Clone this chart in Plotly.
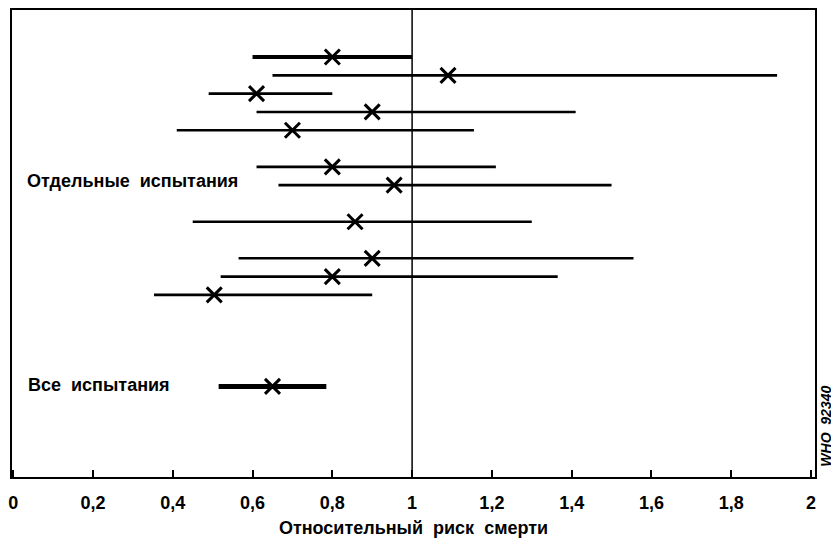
import plotly.graph_objects as go

# Data (relative risk of death, 95% CI)
row_pos = [0, 1, 2, 3, 4, 6, 7, 9, 11, 12, 13]
est = [0.80, 1.09, 0.61, 0.90, 0.70, 0.80, 0.955, 0.857, 0.90, 0.80, 0.504]
lo = [0.60, 0.65, 0.49, 0.61, 0.41, 0.61, 0.665, 0.45, 0.565, 0.52, 0.353]
hi = [1.00, 1.915, 0.80, 1.41, 1.155, 1.21, 1.50, 1.30, 1.555, 1.365, 0.90]
thick = [True, False, False, False, False, False, False, False, False, False, False]

overall_pos = 18
overall_est = 0.65
overall_lo = 0.515
overall_hi = 0.785

tick_vals = [0, 0.2, 0.4, 0.6, 0.8, 1, 1.2, 1.4, 1.6, 1.8, 2]
tick_text = ["0", "0,2", "0,4", "0,6", "0,8", "1", "1,2", "1,4", "1,6", "1,8", "2"]

label_individual = "Отдельные\u00a0\u00a0испытания"
label_all = "Все\u00a0\u00a0испытания"
x_title = "Относительный\u00a0\u00a0риск\u00a0\u00a0смерти"
code_text = "WHO\u00a0\u00a092340"

FONT = "Liberation Sans, Arial, sans-serif"

fig = go.Figure()

def seg(idx_filter):
    xs, ys = [], []
    for i in range(len(est)):
        if idx_filter(i):
            xs += [lo[i], hi[i], None]
            ys += [row_pos[i], row_pos[i], None]
    return xs, ys

xs, ys = seg(lambda i: not thick[i])
fig.add_trace(go.Scatter(x=xs, y=ys, mode="lines", line=dict(color="black", width=2.6),
                         hoverinfo="skip", showlegend=False))
xs, ys = seg(lambda i: thick[i])
fig.add_trace(go.Scatter(x=xs, y=ys, mode="lines", line=dict(color="black", width=4),
                         hoverinfo="skip", showlegend=False))
fig.add_trace(go.Scatter(x=[overall_lo, overall_hi], y=[overall_pos, overall_pos], mode="lines",
                         line=dict(color="black", width=5), hoverinfo="skip", showlegend=False))

fig.add_trace(go.Scatter(x=est + [overall_est], y=row_pos + [overall_pos], mode="markers",
                         marker=dict(symbol="x-thin-open", size=15, color="black",
                                     line=dict(color="black", width=3)),
                         showlegend=False))

fig.add_shape(type="line", x0=1, x1=1, y0=0, y1=1, xref="x", yref="paper",
              line=dict(color="black", width=1.5))

fig.add_annotation(x=0.016, xref="paper", y=6.75, yref="y", text=label_individual,
                   showarrow=False, xanchor="left", yanchor="middle",
                   font=dict(family=FONT, size=18, color="black", weight="bold"))
fig.add_annotation(x=0.018, xref="paper", y=17.9, yref="y", text=label_all,
                   showarrow=False, xanchor="left", yanchor="middle",
                   font=dict(family=FONT, size=18, color="black", weight="bold"))
fig.add_annotation(x=1.0, xref="paper", xshift=11, y=20.2, yref="y", text="<i>" + code_text + "</i>",
                   showarrow=False, textangle=-90, xanchor="center", yanchor="middle",
                   font=dict(family=FONT, size=14, color="black", weight="bold"))

fig.update_xaxes(range=[-0.003, 2.01], tickvals=tick_vals, ticktext=tick_text,
                 ticks="inside", ticklen=7, tickwidth=1.5, tickcolor="black",
                 showline=True, linecolor="black", linewidth=2, mirror=True,
                 showgrid=False, zeroline=False, automargin=False, ticklabelstandoff=8,
                 tickfont=dict(family=FONT, size=18, color="black", weight="bold"),
                 title=dict(text=x_title, font=dict(family=FONT, size=18, color="black", weight="bold"),
                            standoff=10))
fig.update_yaxes(range=[22.95, -2.57], showticklabels=False, showgrid=False, zeroline=False,
                 showline=True, linecolor="black", linewidth=1.5, mirror=True, ticks="", automargin=False)

fig.update_layout(width=831, height=532, margin=dict(l=4, r=24, t=2, b=63),
                  plot_bgcolor="white", paper_bgcolor="white")

fig.write_html("out.html")
